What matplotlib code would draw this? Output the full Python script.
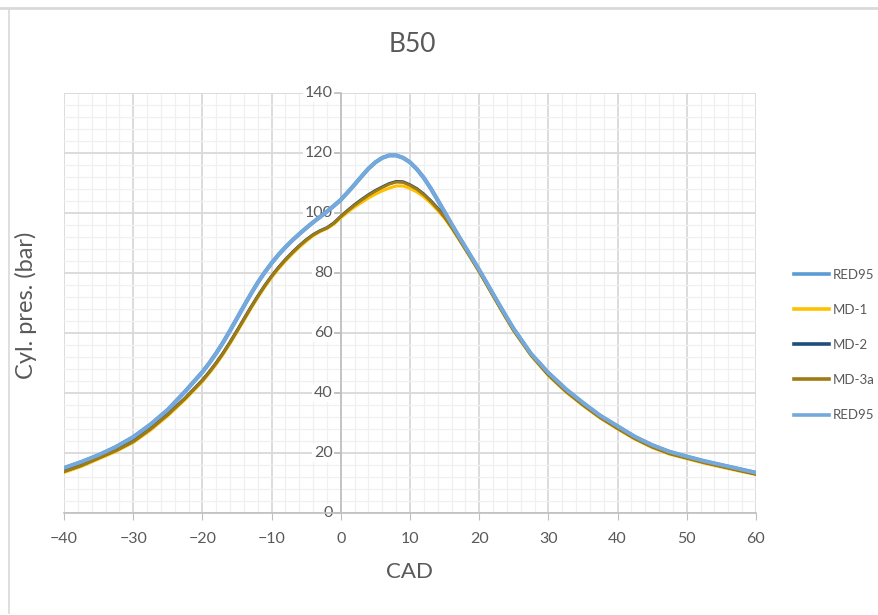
import numpy as np
import matplotlib; matplotlib.use('Agg')
import matplotlib.pyplot as plt
from matplotlib.lines import Line2D

plt.rcParams['font.family'] = ['Lato', 'DejaVu Sans']

# crank angle (deg) and cylinder pressure (bar); 1 deg steps around TDC
cad = ([-40, -37.5, -35, -32.5, -30, -27.5, -25, -22.5]
       + list(range(-20, 26))
       + [27.5, 30, 32.5, 35, 37.5, 40, 42.5, 45, 47.5, 50, 52.5, 55, 57.5, 60])

red95 = ([15.0, 17.0, 19.3, 22.0, 25.3, 29.5, 34.4, 40.5,
          47.0, 50.0, 53.3, 56.9, 60.8, 64.9, 69.0, 73.0, 76.8, 80.2,
          83.3, 86.1, 88.6, 90.9, 93.0, 95.0, 96.9, 98.7, 100.5, 102.4,
          104.4, 106.9, 109.5, 112.2, 114.8, 116.9, 118.4, 119.2, 119.2, 118.4,
          116.9, 114.6, 111.7, 108.2, 104.3, 100.3, 96.3, 92.4, 88.6, 84.8,
          81.0, 77.0, 73.0, 69.0, 65.1, 61.3]
         + [53.0, 46.7, 41.3, 36.7, 32.4, 28.9, 25.4, 22.6, 20.4, 18.8, 17.3, 16.0, 14.7, 13.4])

md3a = ([13.8, 15.8, 18.3, 20.8, 23.8, 28.0, 32.8, 38.2,
         44.2, 47.0, 50.0, 53.3, 56.9, 60.7, 64.6, 68.5, 72.2, 75.7,
         78.9, 81.8, 84.4, 86.8, 89.0, 91.0, 92.7, 94.0, 95.0, 96.6,
         98.8, 100.8, 102.6, 104.3, 105.9, 107.3, 108.5, 109.6, 110.3, 110.2,
         109.2, 107.9, 106.1, 103.9, 101.4, 98.6, 95.3, 91.7, 88.0, 84.3,
         80.5, 76.5, 72.5, 68.5, 64.6, 60.8]
        + [52.6, 46.0, 40.6, 36.0, 31.8, 28.2, 24.8, 22.0, 19.8, 18.3, 16.8, 15.5, 14.2, 12.9])

md2 = ([13.9, 15.9, 18.4, 20.9, 23.9, 28.1, 32.9, 38.3,
        44.3, 47.1, 50.1, 53.4, 57.0, 60.8, 64.7, 68.6, 72.3, 75.8,
        79.0, 81.9, 84.5, 86.9, 89.1, 91.1, 92.8, 94.1, 95.1, 96.7,
        98.9, 100.9, 102.8, 104.5, 106.1, 107.5, 108.7, 109.8, 110.5, 110.4,
        109.4, 108.1, 106.3, 104.1, 101.6, 98.8, 95.4, 91.8, 88.1, 84.4,
        80.6, 76.6, 72.6, 68.6, 64.7, 60.9]
       + [52.7, 46.1, 40.7, 36.1, 31.9, 28.3, 24.9, 22.1, 19.9, 18.4, 16.9, 15.6, 14.3, 13.0])

md1 = ([13.5, 15.5, 18.0, 20.5, 23.5, 27.6, 32.4, 37.8,
        43.8, 46.6, 49.6, 52.9, 56.5, 60.3, 64.2, 68.1, 71.8, 75.3,
        78.5, 81.4, 84.0, 86.4, 88.6, 90.6, 92.4, 93.8, 94.8, 96.3,
        98.4, 100.3, 102.0, 103.5, 105.0, 106.3, 107.4, 108.3, 109.0, 109.0,
        108.2, 107.0, 105.4, 103.3, 100.9, 98.2, 95.0, 91.4, 87.8, 84.1,
        80.3, 76.3, 72.3, 68.3, 64.4, 60.6]
       + [52.4, 45.8, 40.4, 35.8, 31.6, 28.0, 24.6, 21.8, 19.6, 18.1, 16.6, 15.3, 14.0, 12.8])

fig = plt.figure(figsize=(8.79, 6.15), dpi=100)
ax = fig.add_axes([64/879, 102/615, 692/879, 420/615])

grey = '#595959'
ax.plot(cad, red95, color='#5B9BD5', lw=3.0, zorder=3, label='RED95')
ax.plot(cad, md1, color='#FFC000', lw=2.2, zorder=4, label='MD-1')
ax.plot(cad, md2, color='#1F4E79', lw=2.2, zorder=5, label='MD-2')
ax.plot(cad, md3a, color='#A07A14', lw=2.0, zorder=6, label='MD-3a')
ax.plot(cad, red95, color='#75A9DC', lw=2.6, zorder=7, label='RED95')

ax.set_xlim(-40, 60)
ax.set_ylim(0, 140)
ax.set_xticks(np.arange(-40, 61, 10))
ax.set_xticks(np.arange(-40, 61, 2), minor=True)
ax.set_yticks(np.arange(0, 141, 20))
ax.set_yticks(np.arange(0, 141, 4), minor=True)
ax.grid(which='major', color='#d9d9d9', lw=1.3, zorder=0)
ax.grid(which='minor', color='#f0f0f0', lw=0.9, zorder=0)
ax.set_axisbelow(True)

for s in ['top', 'right', 'left']:
    ax.spines[s].set_visible(False)
ax.spines['bottom'].set_color('#bfbfbf')
ax.spines['bottom'].set_linewidth(1.2)
ax.tick_params(axis='x', which='major', length=5, color='#bfbfbf', labelsize=11.5,
               labelcolor=grey, pad=9)
ax.tick_params(axis='x', which='minor', length=0)
ax.tick_params(axis='y', which='both', length=0, labelleft=False)

# vertical axis crosses at CAD = 0
ax.axvline(0, color='#bfbfbf', lw=1.2, zorder=1)
for v in range(0, 141, 20):
    ax.plot([-0.8, 0], [v, v], color='#bfbfbf', lw=1.2, zorder=1, clip_on=False)
    ax.text(-1.2, v, str(v), ha='right', va='center', fontsize=11.5, color=grey, zorder=2,
            bbox=dict(boxstyle='square,pad=0.1', fc='white', ec='none'))

ax.set_xlabel('CAD', fontsize=16, color=grey, labelpad=11)
fig.text(26/879, 1 - 305/615, 'Cyl. pres. (bar)', rotation=90, ha='center', va='center',
         fontsize=17, color=grey)
fig.text(412/879, 1 - 45/615, 'B50', ha='center', va='center', fontsize=19, color=grey)

handles = [Line2D([], [], color=c, lw=2.6) for c in ['#5B9BD5', '#FFC000', '#1F4E79', '#A07A14', '#75A9DC']]
fig.legend(handles, ['RED95', 'MD-1', 'MD-2', 'MD-3a', 'RED95'], loc='center left',
           bbox_to_anchor=(782/879, 1 - 345/615), frameon=False, fontsize=9.5,
           labelcolor=grey, handlelength=2.7, handletextpad=0.25, labelspacing=1.75)

# outer chart frame
fig.add_artist(Line2D([0, 1], [1 - 8/615, 1 - 8/615], color='#d9d9d9', lw=2))
fig.add_artist(Line2D([9/879, 9/879], [1 - 8/615, 1 - 613/615], color='#d9d9d9', lw=1.2))

fig.savefig('out.png', dpi=100)
